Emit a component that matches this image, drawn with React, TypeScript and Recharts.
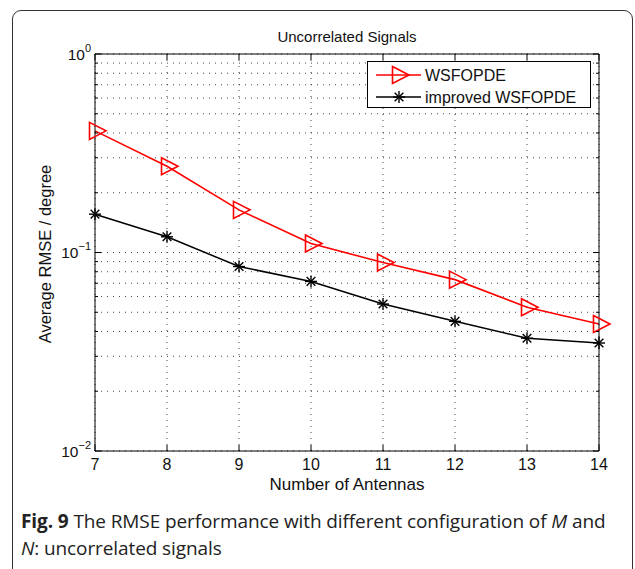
import React from 'react';
import { LineChart, Line, XAxis, YAxis, CartesianGrid, Legend } from 'recharts';

// Number of antennas (x) and average RMSE in degrees for each method
const antennas = [7, 8, 9, 10, 11, 12, 13, 14];
const wsfopde = [0.41, 0.272, 0.164, 0.111, 0.089, 0.073, 0.053, 0.0436];
const improvedWsfopde = [0.156, 0.12, 0.085, 0.0715, 0.055, 0.045, 0.037, 0.035];

const xTicks = [7, 8, 9, 10, 11, 12, 13, 14];
const yMajorTicks = [0.01, 0.1, 1];
const yTicks = [
  0.01, 0.02, 0.03, 0.04, 0.05, 0.06, 0.07, 0.08, 0.09,
  0.1, 0.2, 0.3, 0.4, 0.5, 0.6, 0.7, 0.8, 0.9, 1,
];

const data = antennas.map((n, i) => ({ n, wsfopde: wsfopde[i], improved: improvedWsfopde[i] }));

const FONT = '"Liberation Sans", Arial, Helvetica, sans-serif';
const RED = '#ff0000';

const isMajor = (v: number) => yMajorTicks.some((m) => Math.abs(m - v) < 1e-9);

const TriangleMarker = ({ cx, cy }: any) => (
  <path
    d={`M${cx - 5.5},${cy - 8.5} L${cx + 11},${cy} L${cx - 5.5},${cy + 8.5} Z`}
    fill="none"
    stroke={RED}
    strokeWidth={1.6}
  />
);

const StarMarker = ({ cx, cy }: any) => {
  const r = 6;
  const d = r * 0.72;
  return (
    <g stroke="#000" strokeWidth={1.4}>
      <line x1={cx - r} y1={cy} x2={cx + r} y2={cy} />
      <line x1={cx} y1={cy - r} x2={cx} y2={cy + r} />
      <line x1={cx - d} y1={cy - d} x2={cx + d} y2={cy + d} />
      <line x1={cx - d} y1={cy + d} x2={cx + d} y2={cy - d} />
    </g>
  );
};

// MATLAB style: ticks point inward on all four sides
const BottomTick = ({ x, y, payload }: any) => (
  <g>
    <line x1={x} x2={x} y1={y} y2={y - 6} stroke="#000" />
    <text x={x} y={y + 19} textAnchor="middle" fontSize={16} fontFamily={FONT} fill="#111">
      {payload.value}
    </text>
  </g>
);

const TopTick = ({ x, y }: any) => <line x1={x} x2={x} y1={y} y2={y + 6} stroke="#000" />;

const LeftTick = ({ x, y, payload }: any) => {
  const major = isMajor(payload.value);
  const exp = Math.round(Math.log10(payload.value));
  return (
    <g>
      <line x1={x} x2={x + (major ? 6 : 3)} y1={y} y2={y} stroke="#000" />
      {major && (
        <text x={x - 4} y={y + 5.5} textAnchor="end" fontSize={15.5} fontFamily={FONT} fill="#111">
          10
          <tspan dy={-8} fontSize={11}>
            {exp === 0 ? '0' : `\u2212${-exp}`}
          </tspan>
        </text>
      )}
    </g>
  );
};

const RightTick = ({ x, y, payload }: any) => (
  <line x1={x} x2={x - (isMajor(payload.value) ? 6 : 3)} y1={y} y2={y} stroke="#000" />
);

const LegendBox = () => (
  <svg width={224} height={47} style={{ display: 'block' }}>
    <rect x={0.5} y={0.5} width={223} height={46} fill="#fff" stroke="#000" />
    <line x1={9} x2={54} y1={14} y2={14} stroke={RED} strokeWidth={1.6} />
    <TriangleMarker cx={31} cy={14} />
    <text x={58} y={19.5} fontSize={16} fontFamily={FONT} fill="#111">WSFOPDE</text>
    <line x1={9} x2={54} y1={36} y2={36} stroke="#000" strokeWidth={1.5} />
    <StarMarker cx={32} cy={36} />
    <text x={58} y={41.5} fontSize={16} fontFamily={FONT} fill="#111">improved WSFOPDE</text>
  </svg>
);

export default function App() {
  return (
    <div style={{ position: 'absolute', left: 0, top: 0, width: 635, height: 569, overflow: 'hidden', background: '#fff' }}>
      {/* figure frame */}
      <div
        style={{
          position: 'absolute',
          left: 12,
          top: 10,
          width: 619,
          height: 700,
          border: '1px solid #333',
          borderRadius: 9,
        }}
      />

      <div style={{ position: 'absolute', left: 0, top: 0 }}>
        <LineChart width={635} height={569} data={data} margin={{ top: 53, right: 35, bottom: 0, left: 0 }}>
          <CartesianGrid stroke="#444" strokeDasharray="1 5" />
          <XAxis
            dataKey="n"
            type="number"
            domain={[7, 14]}
            ticks={xTicks}
            height={118}
            axisLine={{ stroke: '#000' }}
            tickLine={false}
            tickSize={0}
            tickMargin={0}
            tick={<BottomTick />}
            interval={0}
          />
          <XAxis
            xAxisId="top"
            orientation="top"
            dataKey="n"
            type="number"
            domain={[7, 14]}
            ticks={xTicks}
            height={1}
            axisLine={{ stroke: '#000' }}
            tickLine={false}
            tickSize={0}
            tickMargin={0}
            tick={<TopTick />}
            interval={0}
          />
          <YAxis
            type="number"
            scale="log"
            domain={[0.01, 1]}
            allowDataOverflow
            ticks={yTicks}
            width={95}
            axisLine={{ stroke: '#000' }}
            tickLine={false}
            tickSize={0}
            tickMargin={0}
            tick={<LeftTick />}
            interval={0}
          />
          <YAxis
            yAxisId="right"
            orientation="right"
            type="number"
            scale="log"
            domain={[0.01, 1]}
            allowDataOverflow
            ticks={yTicks}
            width={1}
            axisLine={{ stroke: '#000' }}
            tickLine={false}
            tickSize={0}
            tickMargin={0}
            tick={<RightTick />}
            interval={0}
          />
          <Legend
            layout="vertical"
            align="center"
            verticalAlign="middle"
            wrapperStyle={{ left: 367, top: 61, width: 224, height: 47 }}
            content={() => <LegendBox />}
          />
          <Line
            dataKey="wsfopde"
            name="WSFOPDE"
            stroke={RED}
            strokeWidth={1.6}
            dot={(p: any) => <TriangleMarker key={`t-${p.index}`} cx={p.cx} cy={p.cy} />}
            isAnimationActive={false}
          />
          <Line
            dataKey="improved"
            name="improved WSFOPDE"
            stroke="#000"
            strokeWidth={1.5}
            dot={(p: any) => <StarMarker key={`s-${p.index}`} cx={p.cx} cy={p.cy} />}
            isAnimationActive={false}
          />
        </LineChart>
      </div>

      {/* title and axis labels */}
      <div
        style={{
          position: 'absolute',
          left: 347,
          top: 36,
          transform: 'translate(-50%, -50%)',
          fontFamily: FONT,
          fontSize: 15,
          color: '#111',
          whiteSpace: 'nowrap',
        }}
      >
        Uncorrelated Signals
      </div>
      <div
        style={{
          position: 'absolute',
          left: 347,
          top: 485,
          transform: 'translate(-50%, -50%)',
          fontFamily: FONT,
          fontSize: 17,
          color: '#111',
          whiteSpace: 'nowrap',
        }}
      >
        Number of Antennas
      </div>
      <div
        style={{
          position: 'absolute',
          left: 45,
          top: 254,
          transform: 'translate(-50%, -50%) rotate(-90deg)',
          fontFamily: FONT,
          fontSize: 16.5,
          color: '#111',
          whiteSpace: 'nowrap',
        }}
      >
        Average RMSE / degree
      </div>

      {/* caption */}
      <div
        style={{
          position: 'absolute',
          left: 21,
          top: 508,
          fontFamily: '"Open Sans", "Noto Sans", sans-serif',
          fontSize: 19,
          lineHeight: '27px',
          color: '#222',
          whiteSpace: 'nowrap',
          letterSpacing: -0.1,
        }}
      >
        <b>Fig. 9</b> The RMSE performance with different configuration of <i>M</i> and
        <br />
        <i>N</i>: uncorrelated signals
      </div>
    </div>
  );
}
